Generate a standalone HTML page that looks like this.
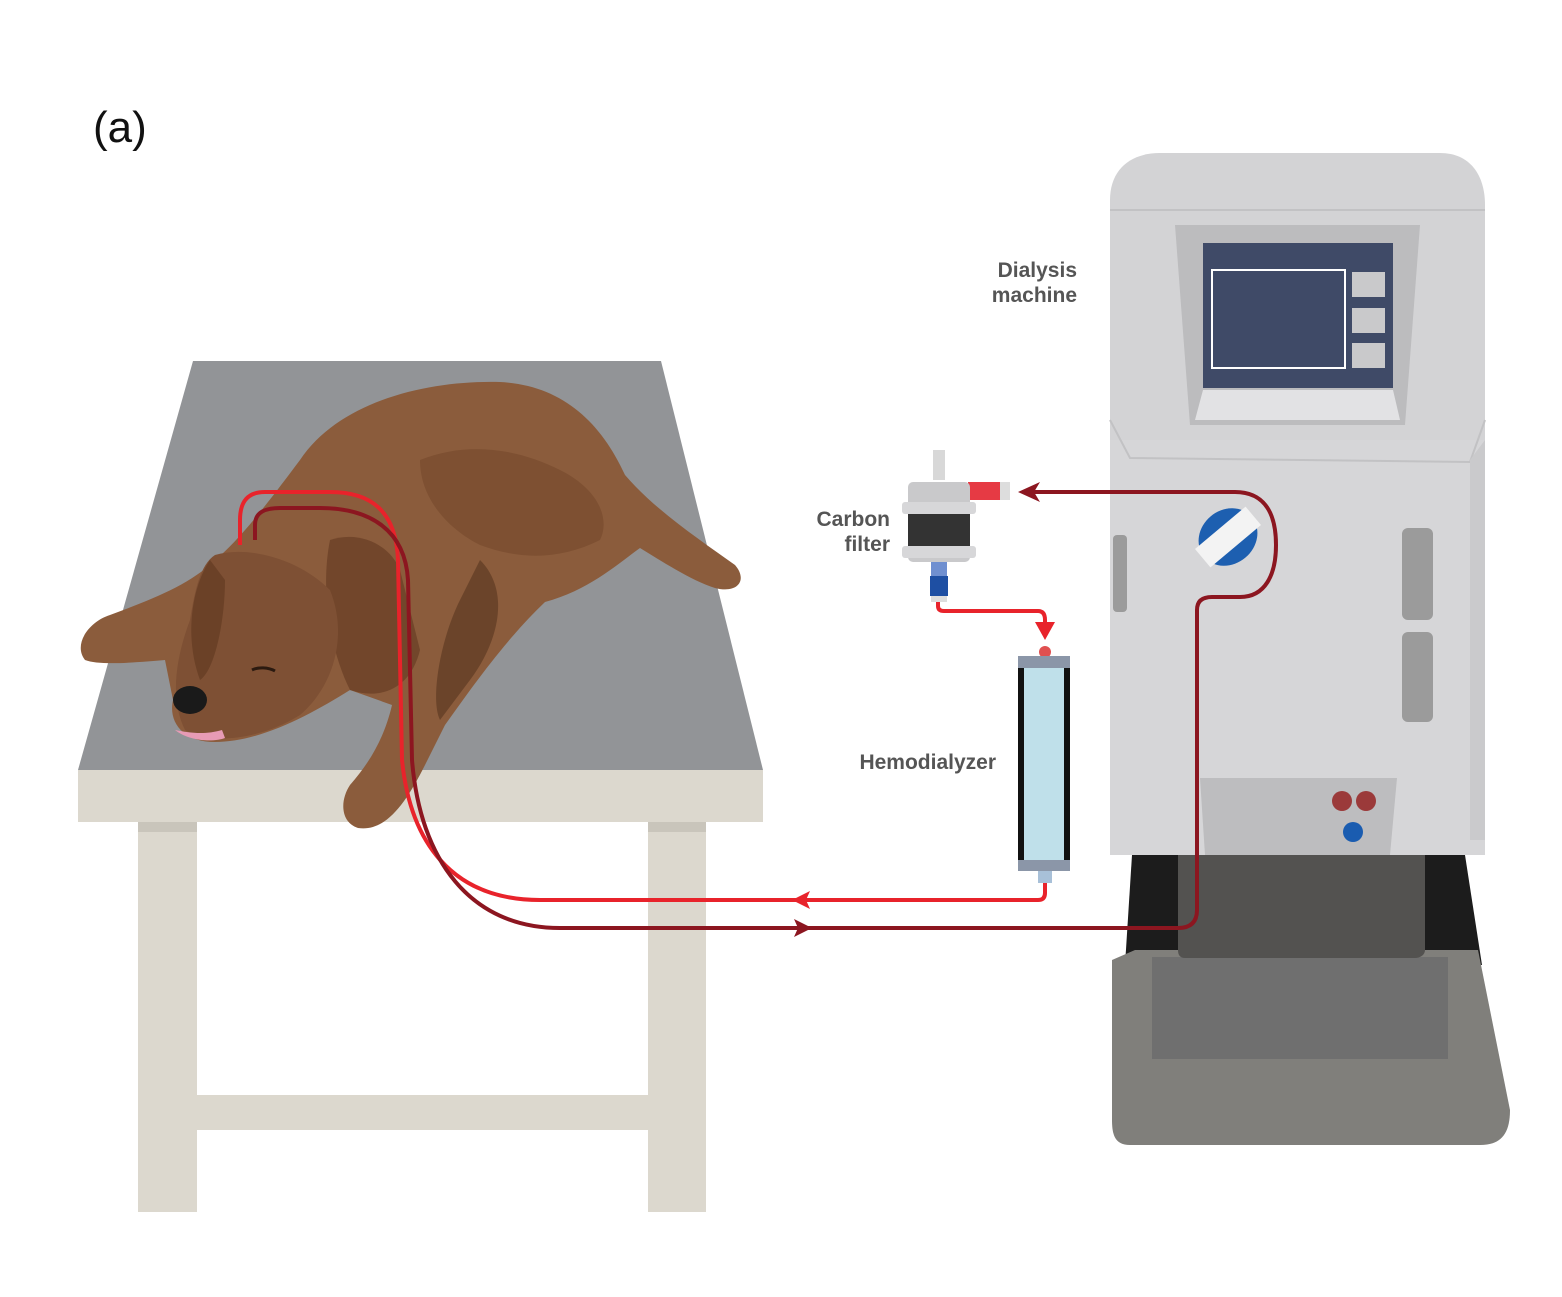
<!DOCTYPE html>
<html><head><meta charset="utf-8"><style>
html,body{margin:0;padding:0;background:#fff}
svg{display:block}
text{font-family:"Liberation Sans",sans-serif}
</style></head><body>
<svg width="1562" height="1297" viewBox="0 0 1562 1297" xmlns="http://www.w3.org/2000/svg">
<rect width="1562" height="1297" fill="#fff"/>
<text x="93" y="142" font-size="44" fill="#111">(a)</text>

<!-- table -->
<polygon points="193,361 661,361 763,770 78,770" fill="#929497"/>
<rect x="78" y="770" width="685" height="52" fill="#dcd8ce"/>
<rect x="138" y="822" width="59" height="390" fill="#dcd8ce"/>
<rect x="648" y="822" width="58" height="390" fill="#dcd8ce"/>
<rect x="197" y="1095" width="451" height="35" fill="#dcd8ce"/>
<rect x="138" y="822" width="59" height="10" fill="#c9c5bb"/>
<rect x="648" y="822" width="58" height="10" fill="#c9c5bb"/>

<!-- dog -->
<path d="M300,460 C340,400 430,380 500,382 C560,385 600,420 625,475 C655,510 700,540 735,565 C748,580 738,594 715,588 C690,580 660,560 640,548 C620,562 590,590 545,602 C505,640 470,690 445,725 L425,765 C405,805 385,832 358,828 C340,822 340,800 350,785 C372,760 385,735 392,705 L350,690 C310,715 260,742 215,742 C183,742 168,722 173,700 L165,660 C140,662 100,666 85,660 C73,645 88,622 110,615 C150,600 190,585 215,560 C240,540 270,500 300,460 Z" fill="#8b5c3c"/>
<path d="M420,460 C470,440 520,450 560,470 C600,490 610,520 600,540 C560,560 520,560 480,545 C450,530 420,500 420,460 Z" fill="#7a4d30" opacity="0.8"/>
<path d="M330,540 C360,530 390,545 400,570 L420,650 C410,690 380,700 350,690 C330,650 320,590 330,540 Z" fill="#6b4127" opacity="0.8"/>
<path d="M480,560 C510,590 500,640 470,680 L440,720 C430,700 440,640 460,600 Z" fill="#5e3a22" opacity="0.7"/>
<path d="M215,555 C250,545 300,560 330,590 C350,640 330,690 300,715 C260,740 210,745 185,730 C170,700 175,660 190,620 C195,590 200,565 215,555 Z" fill="#7e5034"/>
<path d="M210,560 C190,590 185,640 200,680 C215,670 225,620 225,580 Z" fill="#6b4127"/>
<ellipse cx="190" cy="700" rx="17" ry="14" fill="#1a1a1a"/>
<path d="M175,730 C190,742 215,742 225,738 L222,730 C205,735 190,733 175,730 Z" fill="#e79bb5"/>
<path d="M252,670 C258,667 268,667 275,671" stroke="#2b1a10" stroke-width="3" fill="none"/>

<!-- machine -->
<path d="M1110,200 C1110,170 1130,153 1160,153 L1440,153 C1470,153 1485,175 1485,205 L1485,440 L1110,440 Z" fill="#d3d3d5"/>
<rect x="1110" y="440" width="375" height="415" fill="#d6d6d8"/>
<path d="M1110,210 L1485,210" stroke="#c2c2c4" stroke-width="2"/>
<path d="M1110,420 L1130,458 L1470,462 L1485,420" stroke="#c2c2c4" stroke-width="2" fill="none"/>
<path d="M1485,440 L1470,460 L1470,840 L1485,840" fill="#cacacc"/>
<polygon points="1175,225 1420,225 1405,425 1190,425" fill="#bcbcbe"/>
<rect x="1203" y="243" width="190" height="145" fill="#3f4a67"/>
<rect x="1212" y="270" width="133" height="98" fill="none" stroke="#fff" stroke-width="2"/>
<rect x="1352" y="272" width="33" height="25" fill="#c9c9cb"/>
<rect x="1352" y="308" width="33" height="25" fill="#c9c9cb"/>
<rect x="1352" y="343" width="33" height="25" fill="#c9c9cb"/>
<polygon points="1203,390 1393,390 1400,420 1195,420" fill="#e2e2e4"/>
<rect x="1402" y="528" width="31" height="92" rx="6" fill="#9b9b9b"/>
<rect x="1402" y="632" width="31" height="90" rx="6" fill="#9b9b9b"/>
<rect x="1113" y="535" width="14" height="77" rx="4" fill="#9b9b9b"/>
<g transform="rotate(-40 1228 537)">
<ellipse cx="1228" cy="537" rx="31" ry="27" fill="#1d5fb0"/>
<rect x="1195" y="525" width="66" height="24" fill="#f3f3f3"/>
</g>
<!-- base -->
<polygon points="1132,855 1465,855 1482,965 1125,965" fill="#1c1c1c"/>
<path d="M1112,960 L1135,950 L1478,950 L1510,1110 C1510,1135 1500,1145 1480,1145 L1130,1145 C1115,1145 1112,1135 1112,1120 Z" fill="#807f7b"/>
<rect x="1152" y="957" width="296" height="102" fill="#6f6f6f"/>
<path d="M1178,855 L1425,855 L1425,950 C1425,955 1420,958 1415,958 L1185,958 C1180,958 1178,955 1178,950 Z" fill="#535250"/>
<polygon points="1200,778 1397,778 1390,855 1205,855" fill="#bdbdbf"/>
<circle cx="1342" cy="801" r="10" fill="#9b3a3a"/>
<circle cx="1366" cy="801" r="10" fill="#9b3a3a"/>
<circle cx="1353" cy="832" r="10" fill="#1a5cb0"/>

<!-- labels -->
<g font-weight="bold" font-size="21" fill="#555" text-anchor="end">
<text x="1077" y="277">Dialysis</text>
<text x="1077" y="302">machine</text>
<text x="890" y="526">Carbon</text>
<text x="890" y="551">filter</text>
<text x="996" y="769">Hemodialyzer</text>
</g>

<!-- carbon filter -->
<rect x="933" y="450" width="12" height="30" fill="#d8d8d8"/>
<rect x="968" y="482" width="42" height="18" fill="#e63a44"/>
<rect x="1000" y="482" width="10" height="18" fill="#ddd"/>
<rect x="908" y="482" width="62" height="80" rx="5" fill="#c9c9cb"/>
<rect x="902" y="502" width="74" height="12" rx="3" fill="#d7d7d9"/>
<rect x="902" y="546" width="74" height="12" rx="3" fill="#d7d7d9"/>
<rect x="908" y="514" width="62" height="32" fill="#333"/>
<rect x="931" y="562" width="16" height="14" fill="#6f8fd0"/>
<rect x="930" y="576" width="18" height="20" fill="#1e4fa3"/>
<rect x="931" y="596" width="16" height="6" fill="#ddd"/>

<!-- hemodialyzer -->
<circle cx="1045" cy="652" r="6" fill="#e05050"/>
<rect x="1018" y="660" width="52" height="205" fill="#111"/>
<rect x="1024" y="666" width="40" height="194" fill="#bfe0ea"/>
<rect x="1018" y="656" width="52" height="12" fill="#8b96a8"/>
<rect x="1018" y="860" width="52" height="11" fill="#8b96a8"/>
<rect x="1038" y="871" width="14" height="12" fill="#a8c0d8"/>

<!-- tubes -->
<g fill="none" stroke-width="4" stroke-linejoin="round">
<path d="M938,602 L938,606 Q938,611 944,611 L1038,611 Q1045,611 1045,620 L1045,630" stroke="#e8232b"/>
<path d="M1045,883 L1045,893 Q1045,900 1038,900 L540,900 C450,900 410,840 402,760 L398,560 C396,510 370,492 330,492 L265,492 C245,492 240,505 240,520 L240,545" stroke="#e8232b"/>
<path d="M255,540 L255,525 C255,512 265,508 280,508 L320,508 C370,508 405,530 408,580 L412,760 C420,860 470,928 560,928 L1178,928 Q1197,928 1197,910 L1197,610 Q1197,597 1212,597 L1240,597 C1265,597 1276,575 1276,545 C1276,510 1262,492 1235,492 L1030,492" stroke="#8c1620"/>
</g>
<polygon points="1045,640 1035,622 1055,622" fill="#e8232b"/>
<polygon points="1018,492 1040,482 1034,492 1040,502" fill="#8c1620"/>
<polygon points="792,900 810,891 806,900 810,909" fill="#e8232b"/>
<polygon points="812,928 794,919 798,928 794,937" fill="#8c1620"/>
</svg>
</body></html>
